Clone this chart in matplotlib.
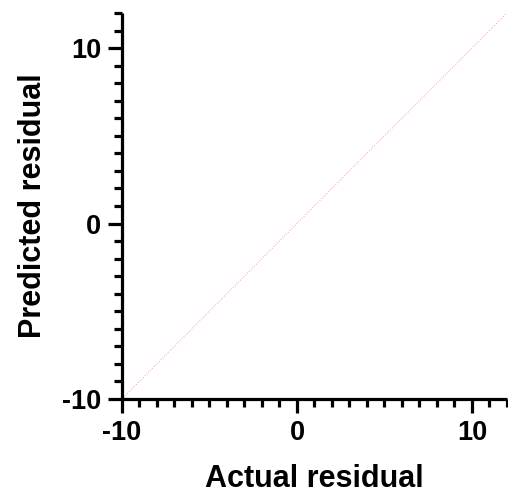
import matplotlib
matplotlib.use("Agg")
import matplotlib.pyplot as plt
from matplotlib.ticker import MultipleLocator

# data
line_x = [-10, 12]
line_y = [-10, 12]
x_ticks = [-10, 0, 10]
y_ticks = [-10, 0, 10]
x_label = "Actual residual"
y_label = "Predicted residual"

plt.rcParams['font.family'] = ['Liberation Sans', 'DejaVu Sans']
plt.rcParams['font.weight'] = 'bold'
plt.rcParams['axes.unicode_minus'] = False

fig = plt.figure(figsize=(5.08, 4.99), dpi=100)
ax = fig.add_axes([0.240, 0.2004, 0.758, 0.7736])

ax.plot(line_x, line_y, color='#ff6060', lw=0.6, ls=(0, (1, 2)), alpha=0.8)

ax.set_xlim(-10, 12)
ax.set_ylim(-10, 12)
ax.set_xticks(x_ticks)
ax.set_yticks(y_ticks)
ax.xaxis.set_minor_locator(MultipleLocator(1))
ax.yaxis.set_minor_locator(MultipleLocator(1))

for s in ['top', 'right']:
    ax.spines[s].set_visible(False)
for s in ['left', 'bottom']:
    ax.spines[s].set_linewidth(2.3)
    ax.spines[s].set_capstyle('butt')

ax.tick_params(which='major', length=10, width=2.3, labelsize=19.5, pad=5)
ax.tick_params(which='minor', length=6, width=2.3)
for lab in ax.get_xticklabels() + ax.get_yticklabels():
    lab.set_fontweight('bold')

ax.set_xlabel(x_label, fontsize=22, fontweight='bold', labelpad=13)
ax.set_ylabel(y_label, fontsize=22, fontweight='bold', labelpad=10)

fig.savefig("out.png", dpi=100)
